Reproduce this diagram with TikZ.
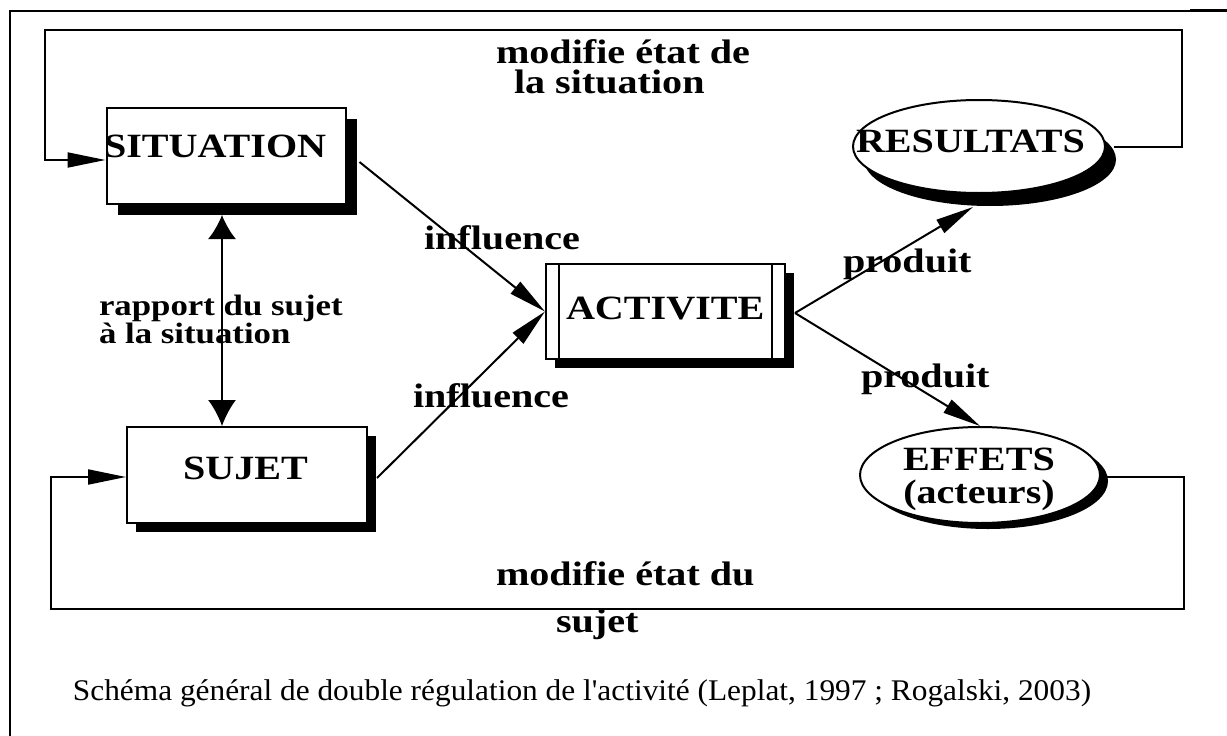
\documentclass[tikz,border=0pt]{standalone}
\usepackage{fontspec}
\setmainfont{Liberation Serif}
\newfontfamily\dbold{Liberation Serif}[FakeStretch=1.18]
\newfontfamily\capfont{Liberation Serif}[FakeStretch=1.045]
\usetikzlibrary{shapes.geometric,shadows,arrows.meta,calc}
\begin{document}
\begin{tikzpicture}[x=1pt,y=-1pt,line width=2pt,
  box/.style={draw,rectangle,fill=white,inner sep=0pt,line width=2pt,
    drop shadow={shadow xshift=#1,shadow yshift=-#1,fill=black,opacity=1}},
  oval/.style={draw,ellipse,fill=white,inner sep=0pt,line width=2pt},
  lbl/.style={inner sep=0pt,anchor=base west,font=\dbold\bfseries\fontsize{34}{30}\selectfont},
  arr/.style={-{Triangle[length=38pt,width=15pt]},line width=2pt},
  dbl/.style={{Latex[length=24pt,width=28pt]}-{Latex[length=26pt,width=28pt]},line width=2pt},
  frame/.style={line width=2.5pt}]
\useasboundingbox (0,0) rectangle (1227,736);
% outer frame
\draw[frame] (10,736) -- (10,11) -- (1190,11);
\draw[line width=3pt] (1190,10) -- (1227,10);
% nodes
\node[box=11pt,minimum width=239pt,minimum height=96pt] (sit) at (226,156) {};
\node[box=9pt,minimum width=240pt,minimum height=96pt] (suj) at (247,475) {};
\node[box=9pt,minimum width=239pt,minimum height=95pt] (act) at (665.5,311.5) {};
\draw[line width=1.5pt] ([xshift=14pt]act.north west) -- ([xshift=14pt]act.south west);
\draw[line width=1.5pt] ([xshift=-14pt]act.north east) -- ([xshift=-14pt]act.south east);
\node[oval,minimum width=252pt,minimum height=93pt,
  drop shadow={shadow xshift=11pt,shadow yshift=-13pt,fill=black,opacity=1}] (res) at (979,146.5) {};
\node[oval,minimum width=240pt,minimum height=96pt,
  drop shadow={shadow xshift=8pt,shadow yshift=-6pt,fill=black,opacity=1}] (eff) at (980,475) {};
% node texts
\node[lbl] (sitt) at (103,157) {SITUATION};
\node[lbl] (sujt) at (182,479) {SUJET};
\node[lbl] (actt) at (565,319) {ACTIVITE};
\node[lbl] (rest) at (855,152) {RESULTATS};
\node[lbl,anchor=base,align=center,font=\dbold\bfseries\fontsize{34}{33}\selectfont] (efft) at (979,503) {EFFETS\\(acteurs)};
% coordinates
\coordinate (tr) at (1182,30);
\coordinate (tl) at (45,30);
\coordinate (br) at (1184,609);
\coordinate (bl) at (51,609);
\coordinate (rtop) at ($(sit.south)+(-4,10)$);
% connectors
\draw[arr] ($(sit.east)+(13,6)$) -- (act.west);
\draw[arr] ($(suj.east)+(9,3)$) -- (act.west);
\draw[arr] ($(act.east)+(9,1.5)$) -- ($(res.south)+(-6,13)$);
\draw[arr] ($(act.east)+(9,1.5)$) -- (eff.north);
\draw[dbl] (rtop) -- (rtop |- suj.north);
\draw[arr] ($(res.east)+(8,0)$) -| (tr) -- (tl) |- ($(sit.west)+(0,4)$);
\draw[arr] ($(eff.east)+(4,2)$) -| (br) -- (bl) |- ($(suj.west)+(0,2)$);
% labels
\node[lbl,align=left] (l1) at (495,93) {modifie état de\\\hspace*{18pt}la situation};
\node[lbl] (l3) at (423,249) {influence};
\node[lbl] (l4) at (412,407) {influence};
\node[lbl,align=left,font=\dbold\bfseries\fontsize{29.5}{25}\selectfont] (l5) at (98,343) {rapport du sujet\\à la situation};
\node[lbl] (l7) at (842,272) {produit};
\node[lbl] (l8) at (860,387) {produit};
\node[lbl] (l9) at (495,585) {modifie état du};
\node[lbl] (l10) at (555,632) {sujet};
\node[inner sep=0pt,anchor=base,font=\capfont\fontsize{30}{33}\selectfont] (cap) at (582,700)
  {Schéma général de double régulation de l'activité (Leplat, 1997 ; Rogalski, 2003)};
\end{tikzpicture}
\end{document}
